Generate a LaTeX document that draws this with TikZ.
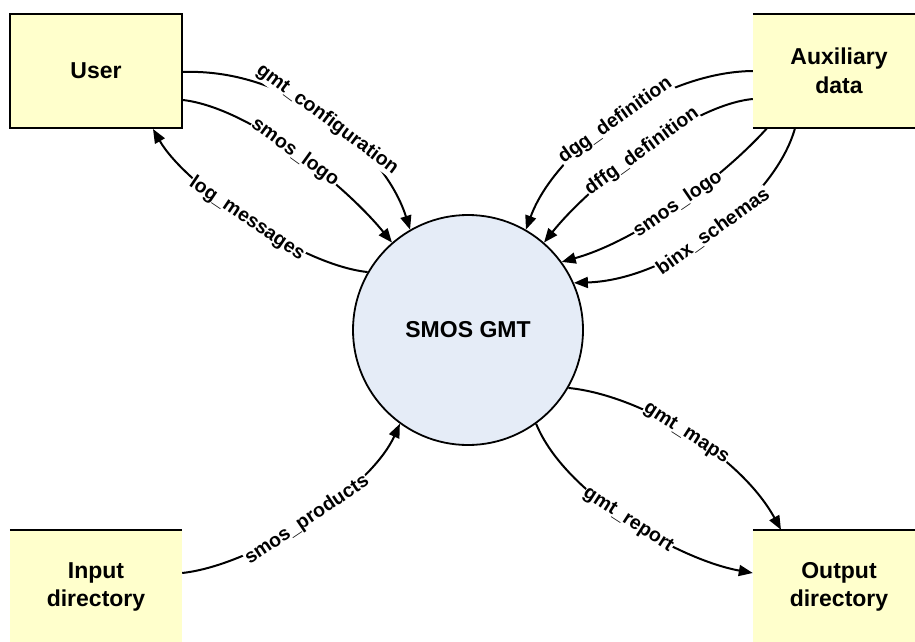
\documentclass[tikz,border=0pt]{standalone}
\usepackage{fontspec}
\setmainfont{Liberation Sans}
\usetikzlibrary{arrows.meta}
\definecolor{boxfill}{RGB}{255,255,204}
\definecolor{procfill}{RGB}{229,236,247}
\begin{document}
\begin{tikzpicture}[x=1pt,y=-1pt,
  store/.style={minimum width=172pt,minimum height=114pt,fill=boxfill,inner sep=0pt,align=center,
    font=\fontsize{23}{28.5}\selectfont\bfseries},
  proc/.style={circle,draw,line width=1.8pt,fill=procfill,minimum size=230pt,inner sep=0pt,
    font=\fontsize{23}{28}\selectfont\bfseries},
  flow/.style={line width=2pt,-{Triangle[length=14pt,width=11pt]}},
  lbl/.style={sloped,fill=white,inner sep=0.5pt,font=\fontsize{19.5}{21}\selectfont\bfseries},
  rim/.style={line width=2pt}]
\useasboundingbox (0,0) rectangle (915,642);
\clip (0,0) rectangle (915,642);

% nodes
\node[store,draw,line width=2pt] (user) at (96,71) {User};
\node[store] (aux) at (839,71) {Auxiliary\\data};
\node[store] (input) at (96,587) {Input\\directory};
\node[store] (output) at (839,587) {Output\\directory};
\node[proc] (gmt) at (468,330) {SMOS GMT};

% data store rims
\draw[rim] (aux.north west) -- (aux.north east);
\draw[rim] (aux.south west) -- (aux.south east);
\draw[rim] (input.north west) -- (input.north east);
\draw[rim] (output.north west) -- (output.north east);

% flows
\draw[flow] ([yshift=-1pt]user.east) .. controls (290,68) and (385,150) .. (gmt.120)
  node[lbl,pos=0.5] {gmt\_configuration};
\draw[flow] ([yshift=-29pt]user.east) .. controls (250,108) and (345,185) .. (gmt.131)
  node[lbl,pos=0.5] {smos\_logo};
\draw[flow] (gmt.150) .. controls (300,265) and (185,185) .. ([xshift=57pt]user.south)
  node[lbl,pos=0.5] {log\_messages};

\draw[flow] (aux.west) .. controls (660,72) and (555,150) .. (gmt.60)
  node[lbl,pos=0.5] {dgg\_definition};
\draw[flow] ([yshift=-28pt]aux.west) .. controls (690,105) and (590,185) .. (gmt.49)
  node[lbl,pos=0.5] {dffg\_definition};
\draw[flow] ([xshift=-72pt]aux.south) .. controls (725,175) and (640,240) .. (gmt.36)
  node[lbl,pos=0.5] {smos\_logo};
\draw[flow] ([xshift=-44pt]aux.south) .. controls (775,200) and (670,280) .. (gmt.24)
  node[lbl,pos=0.5] {binx\_schemas};

\draw[flow] ([yshift=14pt]input.east) .. controls (255,565) and (370,490) .. (gmt.234.6)
  node[lbl,pos=0.5] {smos\_products};

\draw[flow] (gmt.-30) .. controls (640,395) and (740,455) .. ([xshift=-58pt]output.north)
  node[lbl,pos=0.5] {gmt\_maps};
\draw[flow] (gmt.-54) .. controls (565,495) and (680,560) .. ([yshift=14pt]output.west)
  node[lbl,pos=0.5] {gmt\_report};
\end{tikzpicture}
\end{document}
